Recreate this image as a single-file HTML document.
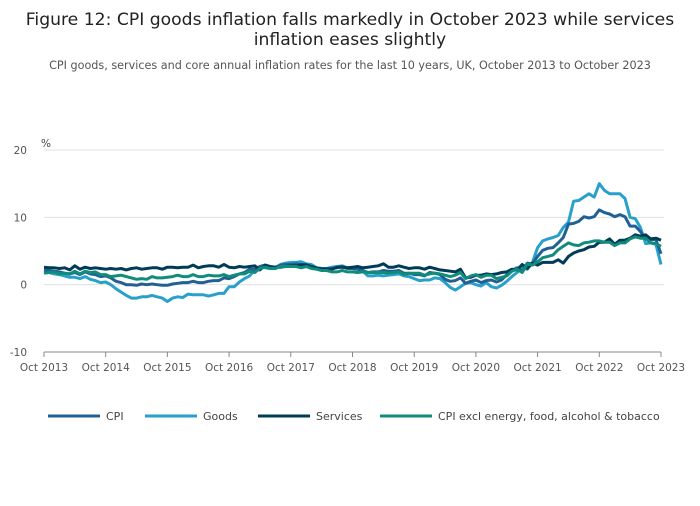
<!DOCTYPE html>
<html><head><meta charset="utf-8"><style>
body{margin:0;background:#fff;font-family:"DejaVu Sans",sans-serif;}
svg text{font-family:"DejaVu Sans",sans-serif;}
</style></head><body>
<svg width="700" height="502">
<text x="350" y="25" text-anchor="middle" font-size="17.2" fill="#222">Figure 12: CPI goods inflation falls markedly in October 2023 while services</text>
<text x="350" y="45" text-anchor="middle" font-size="17.2" fill="#222">inflation eases slightly</text>
<text x="350" y="69" text-anchor="middle" font-size="11.2" fill="#555">CPI goods, services and core annual inflation rates for the last 10 years, UK, October 2013 to October 2023</text>
<text x="41" y="147" font-size="10.5" fill="#444">%</text>
<g id="grid"></g><g id="series"></g><g id="legend"></g>
</svg>
<script>
const xLabels=["Oct 2013","Oct 2014","Oct 2015","Oct 2016","Oct 2017","Oct 2018","Oct 2019","Oct 2020","Oct 2021","Oct 2022","Oct 2023"];
const yTicks=[20,10,0,-10];
const cpi=[2.2,2.1,2.0,1.9,1.7,1.6,1.8,1.5,1.9,1.6,1.5,1.2,1.3,1.0,0.5,0.3,0.0,0.0,-0.1,0.1,0.0,0.1,0.0,-0.1,-0.1,0.1,0.2,0.3,0.3,0.5,0.3,0.3,0.5,0.6,0.6,1.0,0.9,1.2,1.6,1.8,2.3,2.3,2.7,2.9,2.6,2.6,2.9,3.0,3.0,3.1,3.0,3.0,2.7,2.5,2.4,2.4,2.4,2.5,2.7,2.4,2.4,2.3,2.1,1.8,1.9,1.9,2.1,2.0,2.0,2.1,1.7,1.7,1.5,1.5,1.3,1.8,1.7,1.5,0.8,0.5,0.6,1.0,0.2,0.5,0.7,0.3,0.6,0.7,0.4,0.7,1.5,2.1,2.5,2.0,3.2,3.1,4.2,5.1,5.4,5.5,6.2,7.0,9.0,9.1,9.4,10.1,9.9,10.1,11.1,10.7,10.5,10.1,10.4,10.1,8.7,8.7,7.9,6.8,6.7,6.7,4.6];
const goods=[1.9,1.8,1.6,1.5,1.3,1.1,1.1,0.9,1.2,0.8,0.6,0.3,0.4,0.0,-0.6,-1.1,-1.6,-2.0,-2.0,-1.8,-1.8,-1.6,-1.8,-2.0,-2.5,-2.0,-1.8,-1.9,-1.4,-1.5,-1.5,-1.5,-1.7,-1.5,-1.3,-1.3,-0.3,-0.3,0.4,0.9,1.3,2.3,2.6,2.5,2.4,2.5,3.0,3.2,3.3,3.3,3.4,3.1,3.0,2.5,2.4,2.4,2.6,2.7,2.8,2.5,2.4,2.3,2.0,1.3,1.3,1.4,1.3,1.4,1.5,1.6,1.3,1.2,0.9,0.6,0.7,0.7,1.0,0.9,0.3,-0.4,-0.8,-0.3,0.2,0.3,0.0,-0.2,0.3,-0.3,-0.5,-0.1,0.5,1.2,1.8,2.5,2.3,3.3,5.5,6.5,6.8,7.0,7.3,8.5,9.3,12.4,12.5,13.0,13.5,13.0,15.0,14.0,13.5,13.5,13.5,12.8,10.0,9.8,8.5,6.1,6.2,6.0,3.0];
const services=[2.6,2.5,2.5,2.4,2.5,2.2,2.8,2.3,2.6,2.4,2.5,2.4,2.3,2.4,2.3,2.4,2.2,2.4,2.5,2.3,2.4,2.5,2.5,2.3,2.6,2.6,2.5,2.6,2.6,2.9,2.5,2.7,2.8,2.8,2.6,3.0,2.6,2.5,2.7,2.6,2.7,2.8,2.2,2.9,2.7,2.6,2.6,2.7,2.8,2.8,2.9,2.9,2.7,2.5,2.3,2.3,2.3,2.6,2.6,2.5,2.6,2.7,2.5,2.6,2.7,2.8,3.1,2.6,2.6,2.8,2.6,2.4,2.5,2.5,2.3,2.6,2.4,2.2,2.1,2.0,1.9,2.3,1.0,1.1,1.4,1.4,1.6,1.5,1.6,1.8,1.9,2.3,2.2,3.0,2.4,3.2,2.9,3.3,3.3,3.3,3.7,3.2,4.2,4.7,5.0,5.2,5.6,5.7,6.3,6.3,6.8,6.0,6.6,6.6,6.9,7.4,7.2,7.4,6.8,6.9,6.6];
const core=[1.7,1.8,1.9,1.6,1.7,1.6,2.0,1.6,2.0,1.8,1.9,1.5,1.5,1.2,1.3,1.4,1.2,1.0,0.8,0.9,0.8,1.2,1.0,1.0,1.1,1.2,1.4,1.2,1.2,1.5,1.2,1.2,1.4,1.3,1.3,1.5,1.2,1.4,1.6,1.6,2.0,1.8,2.4,2.6,2.4,2.4,2.7,2.7,2.7,2.7,2.5,2.7,2.4,2.3,2.1,2.1,1.9,1.9,2.1,1.9,1.9,1.8,1.9,1.8,1.8,1.8,1.8,1.7,1.8,1.9,1.5,1.7,1.7,1.7,1.4,1.6,1.7,1.6,1.4,1.2,1.4,1.8,0.9,1.3,1.5,1.1,1.4,1.4,0.9,1.1,1.3,2.0,2.3,1.8,3.1,2.9,3.4,4.0,4.2,4.4,5.2,5.7,6.2,5.9,5.8,6.2,6.3,6.5,6.5,6.3,6.3,5.8,6.2,6.2,6.8,7.1,6.9,6.9,6.2,6.1,5.7];
const seriesNames=["CPI","Goods","Services","CPI excl energy, food, alcohol & tobacco"];
const NS="http://www.w3.org/2000/svg";
const x0=44,x1=661,yTop=150,yBot=352;
const xs=i=>x0+(x1-x0)*i/120;
const ys=v=>yTop+(20-v)*(yBot-yTop)/30;
function mk(tag,attrs,parent,txt){const e=document.createElementNS(NS,tag);for(const k in attrs)e.setAttribute(k,attrs[k]);if(txt!==undefined)e.textContent=txt;parent.appendChild(e);return e;}
const grid=document.getElementById('grid');
yTicks.forEach(t=>{
  if(t>-10){const l=mk('line',{x1:x0,x2:x1+3,y1:ys(t),y2:ys(t),stroke:'#e0e0e0','stroke-width':1},grid);
  
  }
  const tx=mk('text',{x:27,y:ys(t)+4,'text-anchor':'end','font-size':10.5,fill:'#555'},grid,String(t));
  
  
});
const ax=mk('line',{x1:x0,x2:x1,y1:yBot,y2:yBot,stroke:'#888','stroke-width':1},grid);


xLabels.forEach((lab,i)=>{
  const x=xs(i*12);
  const tk=mk('line',{x1:x,x2:x,y1:yBot,y2:yBot+5,stroke:'#888'},grid);
  
  
  const tx=mk('text',{x:x,y:yBot+19,'text-anchor':'middle','font-size':10.5,fill:'#555'},grid,lab);
  
  
});
const colors=["#206095","#27a0cc","#003c57","#118c7b"];
const data=[cpi,goods,services,core];
const order=[1,0,2,3];
const sg=document.getElementById('series');
order.forEach(k=>{
  const d=data[k].map((v,i)=>(i?'L':'M')+xs(i).toFixed(1)+' '+ys(v).toFixed(1)).join(' ');
  const p=mk('path',{d:d,fill:'none',stroke:colors[k],'stroke-width':3,'stroke-linejoin':'round'},sg);
  
  
});
const lg=document.getElementById('legend');
const lx=[48,145,258,380];
seriesNames.forEach((n,k)=>{
  const g=mk('g',{},lg);
  
  
  mk('line',{x1:lx[k],x2:lx[k]+52,y1:416,y2:416,stroke:colors[k],'stroke-width':3},g);
  mk('text',{x:lx[k]+58,y:420,'font-size':11,fill:'#444'},g,n);
});
</script>
</body></html>
